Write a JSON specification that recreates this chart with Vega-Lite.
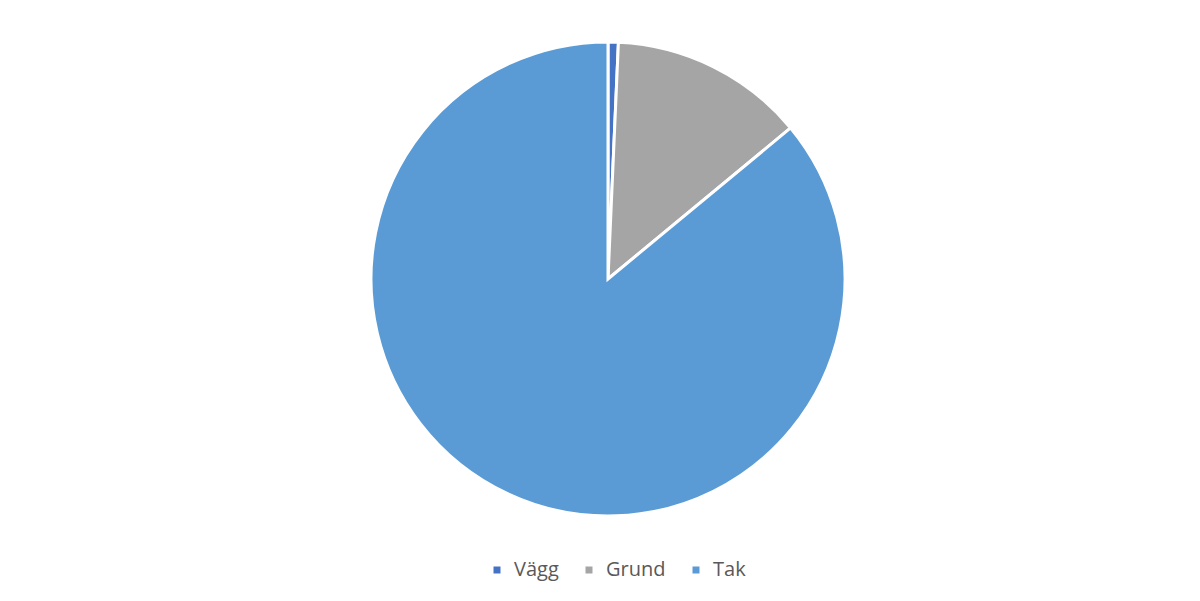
{
  "$schema": "https://vega.github.io/schema/vega-lite/v6.json",
  "autosize": "none",
  "padding": {"left": 6, "top": 9, "right": 0, "bottom": 52},
  "width": 1204,
  "height": 540,
  "background": "white",
  "config": {"view": {"stroke": null}},
  "data": {"values": [
    {"del": "Vägg", "andel": 0.7, "ordning": 1},
    {"del": "Grund", "andel": 13.3, "ordning": 2},
    {"del": "Tak", "andel": 86.0, "ordning": 3}
  ]},
  "mark": {"type": "arc", "radius": 237, "stroke": "white", "strokeWidth": 3},
  "encoding": {
    "theta": {"field": "andel", "type": "quantitative", "stack": true},
    "order": {"field": "ordning", "type": "quantitative"},
    "color": {
      "field": "del", "type": "nominal",
      "scale": {"domain": ["Vägg", "Grund", "Tak"], "range": ["#4472c4", "#a5a5a5", "#5b9bd5"]},
      "legend": {
        "title": null,
        "orient": "none",
        "direction": "horizontal",
        "legendX": 481,
        "legendY": 551,
        "symbolType": "square",
        "symbolSize": 49,
        "symbolStrokeWidth": 0,
        "labelFont": "Open Sans",
        "labelFontSize": 20,
        "labelColor": "#595959",
        "labelOffset": 7,
        "columnPadding": 20
      }
    }
  }
}
